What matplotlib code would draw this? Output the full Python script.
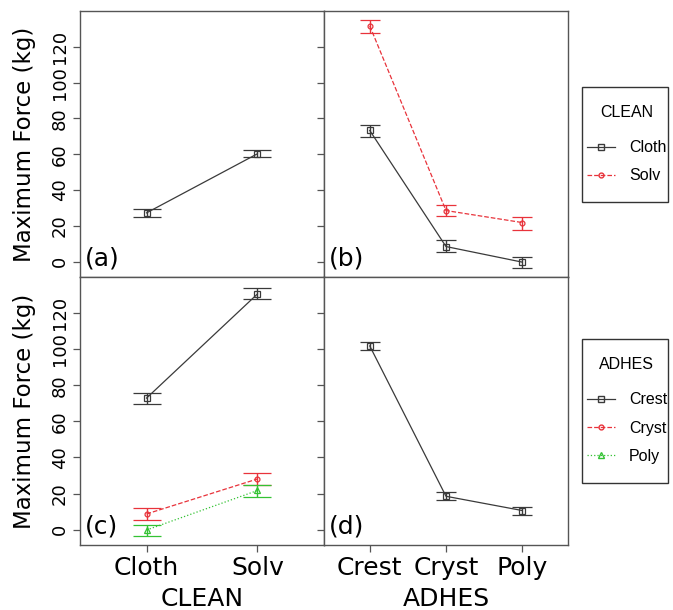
import matplotlib.pyplot as plt
import numpy as np
from matplotlib.lines import Line2D
from matplotlib.patches import Rectangle

clean = ["Cloth", "Solv"]
adhes = ["Crest", "Cryst", "Poly"]

# (a) main effect of CLEAN
a_mean = [27.3, 60.3]
a_lo = [25.1, 58.7]
a_hi = [29.6, 62.6]

# (b) ADHES on x, one line per CLEAN level
b_cloth_mean = [73.3, 8.5, -0.2]
b_cloth_lo = [69.9, 5.4, -3.2]
b_cloth_hi = [76.1, 11.9, 2.4]
b_solv_mean = [131.7, 28.6, 21.9]
b_solv_lo = [127.6, 25.3, 17.9]
b_solv_hi = [134.7, 31.8, 24.9]

# (c) CLEAN on x, one line per ADHES level
c_crest_mean = [72.9, 130.6]
c_crest_lo = [69.4, 127.6]
c_crest_hi = [75.7, 133.7]
c_cryst_mean = [8.7, 28.1]
c_cryst_lo = [5.4, 25.0]
c_cryst_hi = [12.0, 31.5]
c_poly_mean = [-0.2, 21.7]
c_poly_lo = [-3.3, 18.0]
c_poly_hi = [2.8, 24.8]

# (d) main effect of ADHES
d_mean = [101.8, 18.5, 10.6]
d_lo = [99.8, 16.5, 8.3]
d_hi = [104.1, 20.7, 12.4]

yticks = [0, 20, 40, 60, 80, 100, 120]

BLACK = "#3a3a3a"
RED = "#e8333b"
GREEN = "#33c233"
sty_black = dict(color=BLACK, ls="-", marker="s", ms=4.5)
sty_red = dict(color=RED, ls="--", marker="o", ms=3.5)
sty_green = dict(color=GREEN, ls=":", marker="^", ms=5)

plt.rcParams["font.family"] = "DejaVu Sans"
fig = plt.figure(figsize=(6.73, 6.10), dpi=100)

W = 244 / 673
L1 = 80 / 673
L2 = 324 / 673
B_top = 1 - 277 / 610
H_top = 266 / 610
B_bot = 1 - 545 / 610
H_bot = 268 / 610

axa = fig.add_axes([L1, B_top, W, H_top])
axb = fig.add_axes([L2, B_top, W, H_top])
axc = fig.add_axes([L1, B_bot, W, H_bot])
axd = fig.add_axes([L2, B_bot, W, H_bot])


def draw(ax, mean, lo, hi, style, cap):
    x = np.arange(1, len(mean) + 1)
    mean = np.array(mean)
    err = [mean - np.array(lo), np.array(hi) - mean]
    ax.errorbar(x, mean, yerr=err, color=style["color"], ls=style["ls"],
                marker=style["marker"], ms=style["ms"], mfc="none",
                mec=style["color"], mew=0.9, lw=0.9, elinewidth=1.0,
                capsize=cap, capthick=1.0)


draw(axa, a_mean, a_lo, a_hi, sty_black, 10)
draw(axb, b_cloth_mean, b_cloth_lo, b_cloth_hi, sty_black, 7)
draw(axb, b_solv_mean, b_solv_lo, b_solv_hi, sty_red, 7)
draw(axc, c_crest_mean, c_crest_lo, c_crest_hi, sty_black, 10)
draw(axc, c_cryst_mean, c_cryst_lo, c_cryst_hi, sty_red, 10)
draw(axc, c_poly_mean, c_poly_lo, c_poly_hi, sty_green, 10)
draw(axd, d_mean, d_lo, d_hi, sty_black, 7)

for ax, labs, tag in [(axa, clean, "(a)"), (axb, adhes, "(b)"),
                      (axc, clean, "(c)"), (axd, adhes, "(d)")]:
    ax.set_xlim(0.4, len(labs) + 0.6)
    ax.set_ylim(-8.5, 140)
    ax.set_xticks(np.arange(1, len(labs) + 1))
    ax.set_yticks(yticks)
    for s in ax.spines.values():
        s.set_color("#555555")
        s.set_linewidth(1.0)
    ax.tick_params(length=5, width=0.9, color="#555555", direction="out")
    ax.text(0.02, 0.07, tag, transform=ax.transAxes, fontsize=18,
            ha="left", va="center")

# left column: rotated y labels
for ax in (axa, axc):
    ax.tick_params(axis="y", left=True, right=False, labelleft=True,
                   labelsize=13, labelrotation=90, pad=3)
    for t in ax.get_yticklabels():
        t.set_va("center")
    ax.set_ylabel("Maximum Force (kg)", fontsize=16.5)
    ax.yaxis.set_label_coords(-0.18, 0.5)
# right column: ticks on the shared edge pointing into the left panels
for ax in (axb, axd):
    ax.tick_params(axis="y", left=True, right=False, labelleft=False)

# top row: ticks only
for ax in (axa, axb):
    ax.tick_params(axis="x", bottom=True, labelbottom=False)
axc.set_xticklabels(clean)
axd.set_xticklabels(adhes)
for ax, name in ((axc, "CLEAN"), (axd, "ADHES")):
    ax.tick_params(axis="x", labelsize=18, pad=3)
    ax.set_xlabel(name, fontsize=18, labelpad=5)


def handle(style):
    return Line2D([], [], color=style["color"], ls=style["ls"],
                  marker=style["marker"], ms=style["ms"], mfc="none",
                  mec=style["color"], lw=0.9)


leg_kw = dict(loc="upper left", frameon=False, borderpad=1.1,
              labelspacing=0.82, handlelength=1.75, handletextpad=0.9,
              borderaxespad=0,
              prop={"family": "Liberation Sans", "size": 11.5},
              title_fontproperties={"family": "Liberation Sans", "size": 11.5})

leg1 = fig.legend([handle(sty_black), handle(sty_red)], clean,
                  title="CLEAN", bbox_to_anchor=(569 / 673, 1 - 87 / 610),
                  **leg_kw)
leg1._legend_box.sep = 15
leg2 = fig.legend([handle(sty_black), handle(sty_red), handle(sty_green)],
                  adhes, title="ADHES",
                  bbox_to_anchor=(569 / 673, 1 - 339 / 610), **leg_kw)
leg2._legend_box.sep = 15

# legend frames
for top, bot in ((87, 202), (339, 483)):
    fig.patches.append(Rectangle((582 / 673, 1 - bot / 610), 86 / 673,
                                 (bot - top) / 610, transform=fig.transFigure,
                                 fill=False, edgecolor="#333333", lw=1.0))

fig.savefig("out.png", dpi=100)
